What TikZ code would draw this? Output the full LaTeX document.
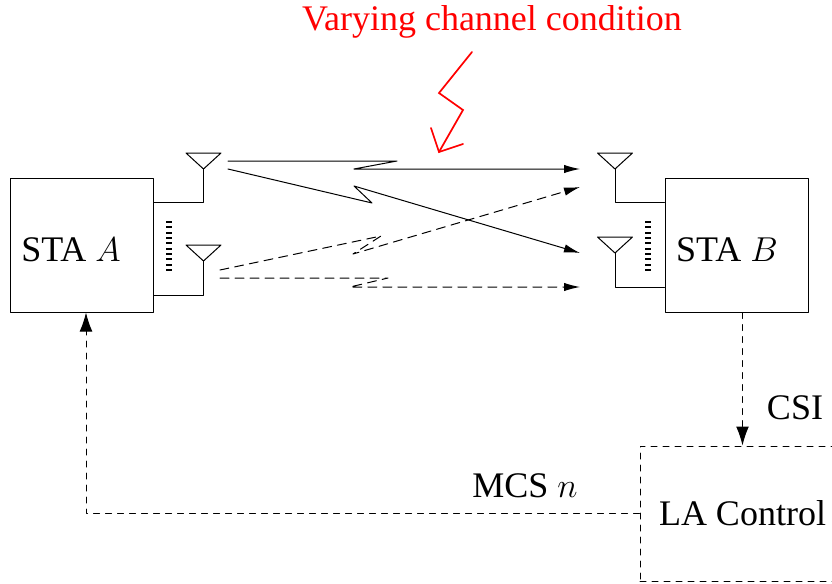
\documentclass[tikz,border=0pt]{standalone}
\usepackage{fontspec}
\setmainfont{Liberation Serif}
\usetikzlibrary{arrows.meta}

\begin{document}
\begin{tikzpicture}[x=0.5pt,y=-0.5pt,line cap=round,line join=round,line width=0.5pt,
  font=\fontsize{18}{21}\selectfont,
  sta/.style={draw,minimum width=71.5pt,minimum height=67pt},
  radio/.style={-{Latex[length=8pt,width=4.2pt]}},
  faded/.style={radio,dash pattern=on 4.5pt off 3pt},
  feedback/.style={dashed,-{Latex[length=9.5pt,width=6.4pt]}}]
\useasboundingbox (0,0) rectangle (832,584);
\clip (0,0) rectangle (832,584);

% stations and controller
\node[sta] (staA) at (81.5,245) {};
\node (staAtext) at (71,250) {STA $A$};
\node[sta] (staB) at (736.5,245) {};
\node (staBtext) at (727,250) {STA $B$};
\node[draw,dashed,minimum width=102.5pt,minimum height=67.5pt] (la) at (742.5,513.5) {LA Control};

% antennas
\foreach \name/\x/\y in {antA1/203.5/169, antA2/203.5/261, antB1/615/169, antB2/615/253} {
  \coordinate (\name) at (\x,\y);
  \draw (\name) -- ++(-17.5,-16) -- ++(35,0) -- cycle;
}
\draw (antA1) |- (staA.east |- 0,202);
\draw (antA2) |- (staA.east |- 0,295);
\draw (antB1) |- (staB.west |- 0,202);
\draw (antB2) |- (staB.west |- 0,287);
\foreach \x in {169,648}
  \foreach \i in {0,...,9}
    \draw[line width=0.9pt,line cap=butt] (\x-3,{222+5.33*\i}) -- (\x+3,{222+5.33*\i});

% radio paths
\coordinate (rxB1a) at (580,169);
\coordinate (rxB2a) at (580,253);
\coordinate (rxB1b) at (580,187);
\coordinate (rxB2b) at (580,287);
\draw[radio] (228,161) -- (397,161) -- (354,169) -- (rxB1a);
\draw[radio] (228,169) -- (372,203) -- (354,186) -- (rxB2a);
\draw[faded] (220,270) -- (381,236) -- (353,254) -- (rxB1b);
\draw[faded] (220,278) -- (388,278) -- (350,287) -- (rxB2b);

% channel
\node[red] (vary) at (492,22) {Varying channel condition};
\draw[red,line width=0.85pt,line join=miter] (472,52) -- (439,93) -- (463,110) -- (439,152);
\draw[red,line width=0.85pt,line join=miter] (431,128) -- (439,152) -- (463,144);

% feedback loop
\node (csi) at (795,408) {CSI};
\node (mcs) at (525,486) {MCS $n$};
\draw[feedback] (staB.south -| la.north) -- (la.north);
\draw[feedback] (la.west) -| ([xshift=2.25pt]staA.south);
\end{tikzpicture}
\end{document}
